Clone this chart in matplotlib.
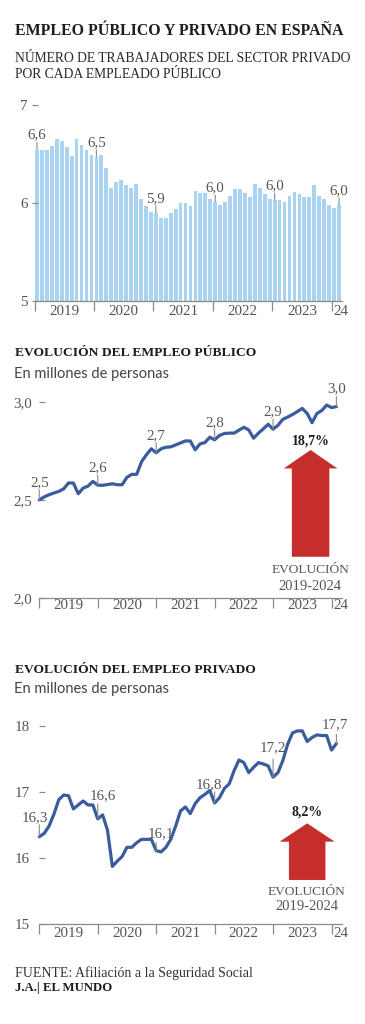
import matplotlib
matplotlib.use("Agg")
import matplotlib.pyplot as plt
from matplotlib.patches import FancyArrow

# ---------------- data ----------------
ratio_values = [6.545, 6.54, 6.54, 6.58, 6.65, 6.63, 6.57, 6.48, 6.65, 6.59, 6.54, 6.49,
                6.47, 6.49, 6.36, 6.15, 6.21, 6.23, 6.18, 6.15, 6.19, 6.04, 5.97, 5.91,
                5.90, 5.85, 5.85, 5.90, 5.94, 6.00, 6.00, 5.97, 6.12, 6.10, 6.10, 6.04,
                6.01, 5.98, 6.01, 6.07, 6.14, 6.14, 6.10, 6.06, 6.19, 6.15, 6.09, 6.04,
                6.03, 6.03, 6.01, 6.07, 6.11, 6.09, 6.06, 6.06, 6.18, 6.07, 6.04, 5.98,
                5.95, 5.98]
ratio_label_idx = [0, 12, 24, 36, 48, 61]
ratio_label_txt = ["6,6", "6,5", "5,9", "6,0", "6,0", "6,0"]

public_values = [2.500, 2.515, 2.526, 2.535, 2.543, 2.556, 2.586, 2.586, 2.531, 2.560, 2.570, 2.594,
                 2.575, 2.574, 2.578, 2.582, 2.577, 2.577, 2.615, 2.630, 2.630, 2.695, 2.730, 2.760,
                 2.740, 2.760, 2.768, 2.770, 2.780, 2.790, 2.800, 2.800, 2.755, 2.785, 2.792, 2.819,
                 2.806, 2.828, 2.838, 2.840, 2.840, 2.855, 2.870, 2.856, 2.814, 2.840, 2.862, 2.885,
                 2.860, 2.880, 2.910, 2.922, 2.935, 2.950, 2.966, 2.940, 2.893, 2.940, 2.955, 2.983,
                 2.970, 2.975]
public_label_idx = [0, 12, 24, 36, 48, 61]
public_label_txt = ["2,5", "2,6", "2,7", "2,8", "2,9", "3,0"]

private_values = [16.32, 16.37, 16.48, 16.66, 16.88, 16.95, 16.94, 16.74, 16.80, 16.86, 16.80, 16.80,
                  16.59, 16.65, 16.42, 15.87, 15.95, 16.02, 16.16, 16.16, 16.23, 16.28, 16.28, 16.28,
                  16.11, 16.09, 16.16, 16.28, 16.48, 16.71, 16.77, 16.67, 16.82, 16.91, 16.96, 17.02,
                  16.83, 16.91, 17.05, 17.12, 17.32, 17.48, 17.44, 17.29, 17.37, 17.44, 17.42, 17.39,
                  17.22, 17.29, 17.47, 17.72, 17.89, 17.92, 17.92, 17.76, 17.82, 17.86, 17.85, 17.85,
                  17.63, 17.73]
private_label_idx = [0, 12, 24, 36, 48, 61]
private_label_txt = ["16,3", "16,6", "16,1", "16,8", "17,2", "17,7"]

year_labels = ["2019", "2020", "2021", "2022", "2023", "24"]
public_change = "18,7%"
private_change = "8,2%"

# ---------------- styling ----------------
W, H = 365, 1024
plt.rcParams['font.family'] = ['Liberation Serif', 'DejaVu Serif']
BAR_C = '#a9d3f0'
LINE_C = '#3a5c9e'
RED = '#c52e2c'
TXT = '#1e1e1e'
GREY = '#555555'
AX_C = '#8a8a8a'
NUM_FS = 10.8

fig = plt.figure(figsize=(W / 100, H / 100), dpi=100)


def rect(l, t, r, b):
    return [l / W, 1 - b / H, (r - l) / W, (b - t) / H]


def ftext(x, y, s, **kw):
    fig.text(x / W, 1 - y / H, s, **kw)


# titles
ftext(15, 31, "EMPLEO PÚBLICO Y PRIVADO EN ESPAÑA", fontsize=11.4, fontweight='bold',
      va='center', color=TXT)
ftext(15, 58, "NÚMERO DE TRABAJADORES DEL SECTOR PRIVADO", fontsize=9.8,
      va='center', color='#2a2a2a')
ftext(15, 74, "POR CADA EMPLEADO PÚBLICO", fontsize=9.8, va='center', color='#2a2a2a')


def style_axis(ax, major, minor, xpad):
    for s in ['top', 'right', 'left']:
        ax.spines[s].set_visible(False)
    ax.spines['bottom'].set_color(AX_C)
    ax.spines['bottom'].set_linewidth(0.9)
    ax.set_xticks(major)
    ax.set_xticklabels([])
    ax.set_xticks(minor, minor=True)
    ax.set_xticklabels(year_labels, minor=True)
    ax.tick_params(axis='x', which='major', direction='out', length=7.5, width=0.9, color=AX_C)
    ax.tick_params(axis='x', which='minor', length=0, pad=xpad, labelsize=NUM_FS, labelcolor=GREY)
    ax.patch.set_alpha(0)


# ---------------- chart 1: bars ----------------
ax1 = fig.add_axes(rect(34.5, 105, 342, 301))
n = len(ratio_values)
x1 = list(range(n))
ax1.bar(x1, [v - 5 for v in ratio_values], bottom=5, width=0.76, color=BAR_C, linewidth=0)
ax1.set_xlim(-0.5, 61.6)
ax1.set_ylim(5, 7)
ax1.set_yticks([5, 6, 7])
ax1.set_yticklabels(["5", "6", "7"])
ax1.tick_params(axis='y', direction='inout', length=5, width=0.9, color=AX_C, pad=2.5,
                labelsize=NUM_FS, labelcolor=GREY)
style_axis(ax1, [-0.5, 11.5, 23.5, 35.5, 47.5, 59.5], [5.5, 17.5, 29.5, 41.5, 53.5, 61.4], 3)
for i, t in zip(ratio_label_idx, ratio_label_txt):
    v = ratio_values[i]
    ax1.annotate('', xy=(i, v), xytext=(0, 7), textcoords='offset pixels',
                 arrowprops=dict(arrowstyle='-', color=AX_C, lw=0.8, shrinkA=0, shrinkB=0))
    ax1.annotate(t, xy=(i, v), xytext=(0, 11), textcoords='offset pixels', ha='center',
                 va='baseline', fontsize=NUM_FS, color=GREY)

# ---------------- chart 2: public ----------------
ftext(15, 353, "EVOLUCIÓN DEL EMPLEO PÚBLICO", fontsize=9.7, fontweight='bold', va='center', color=TXT)
ftext(14, 374, "En millones de personas", fontsize=10.5, va='center', color='#444444', family='Lato')

ax2 = fig.add_axes(rect(39.3, 391.9, 342, 598))
xi = list(range(len(public_values)))
ax2.plot(xi, public_values, color=LINE_C, lw=2.3, solid_joinstyle='round', solid_capstyle='round',
         clip_on=False, zorder=3)
ax2.set_xlim(0, 62.15)
ax2.set_ylim(2.0, 3.05)
ax2.set_yticks([2.0, 2.5, 3.0])
ax2.set_yticklabels(["2,0", "2,5", "3,0"])
ax2.tick_params(axis='y', direction='in', length=4, width=0.9, color=AX_C, pad=5,
                labelsize=NUM_FS, labelcolor=GREY)
style_axis(ax2, [0, 12, 24, 36, 48, 60], [6, 18, 30, 42, 54, 61.95], 0.5)
for i, t in zip(public_label_idx, public_label_txt):
    v = public_values[i]
    ax2.annotate('', xy=(i, v), xytext=(0, 10), textcoords='offset pixels',
                 arrowprops=dict(arrowstyle='-', color=AX_C, lw=0.8, shrinkA=0, shrinkB=0))
    ax2.annotate(t, xy=(i, v), xytext=(0, 14), textcoords='offset pixels', ha='center',
                 va='baseline', fontsize=NUM_FS, color=GREY)
ax2.add_patch(FancyArrow(55.7, 2.21, 0, 2.754 - 2.21, width=7.7, head_width=11.0,
                         head_length=0.094, length_includes_head=True, color=RED, lw=0))
ftext(310.7, 441, public_change, fontsize=10, fontweight='bold', ha='center', va='center', color=TXT)
ftext(310, 570, "EVOLUCIÓN", fontsize=9.6, ha='center', va='center', color=GREY)
ftext(310, 587, "2019-2024", fontsize=10.5, ha='center', va='center', color=GREY)

# ---------------- chart 3: private ----------------
ftext(15, 670, "EVOLUCIÓN DEL EMPLEO PRIVADO", fontsize=9.7, fontweight='bold', va='center', color=TXT)
ftext(14, 689, "En millones de personas", fontsize=10.5, va='center', color='#444444', family='Lato')

ax3 = fig.add_axes(rect(39.3, 719, 342, 924))
ax3.plot(xi, private_values, color=LINE_C, lw=2.3, solid_joinstyle='round', solid_capstyle='round',
         clip_on=False, zorder=3)
ax3.set_xlim(0, 62.15)
ax3.set_ylim(15, 18.1)
ax3.set_yticks([15, 16, 17, 18])
ax3.set_yticklabels(["15", "16", "17", "18"])
ax3.tick_params(axis='y', direction='in', length=4.5, width=0.9, color=AX_C, pad=7,
                labelsize=NUM_FS, labelcolor=GREY)
style_axis(ax3, [0, 12, 24, 36, 48, 60], [6, 18, 30, 42, 54, 61.95], 2)
priv_offsets = [(-4, 16, 12), (5, 20, 15), (4.5, 13, 8), (-6, 15, 11), (0, 26, 18), (-2, 15, 9)]
for (i, t), (dx, dy, ll) in zip(zip(private_label_idx, private_label_txt), priv_offsets):
    v = private_values[i]
    ax3.annotate('', xy=(i, v), xytext=(0, ll), textcoords='offset pixels',
                 arrowprops=dict(arrowstyle='-', color=AX_C, lw=0.8, shrinkA=0, shrinkB=0))
    ax3.annotate(t, xy=(i, v), xytext=(dx, dy), textcoords='offset pixels', ha='center',
                 va='baseline', fontsize=NUM_FS, color=GREY)
ax3.add_patch(FancyArrow(55.0, 15.666, 0, 16.522 - 15.666, width=7.5, head_width=11.3,
                         head_length=0.277, length_includes_head=True, color=RED, lw=0))
ftext(307, 812, private_change, fontsize=10, fontweight='bold', ha='center', va='center', color=TXT)
ftext(307, 892, "EVOLUCIÓN", fontsize=9.6, ha='center', va='center', color=GREY)
ftext(307, 907, "2019-2024", fontsize=10.5, ha='center', va='center', color=GREY)

# ---------------- footer ----------------
ftext(15, 973, "FUENTE: Afiliación a la Seguridad Social", fontsize=10, va='center', color='#333333')
ftext(15, 988, "J.A.| EL MUNDO", fontsize=9.2, fontweight='bold', va='center', color=TXT)

fig.savefig("out.png", dpi=100, facecolor='white')
